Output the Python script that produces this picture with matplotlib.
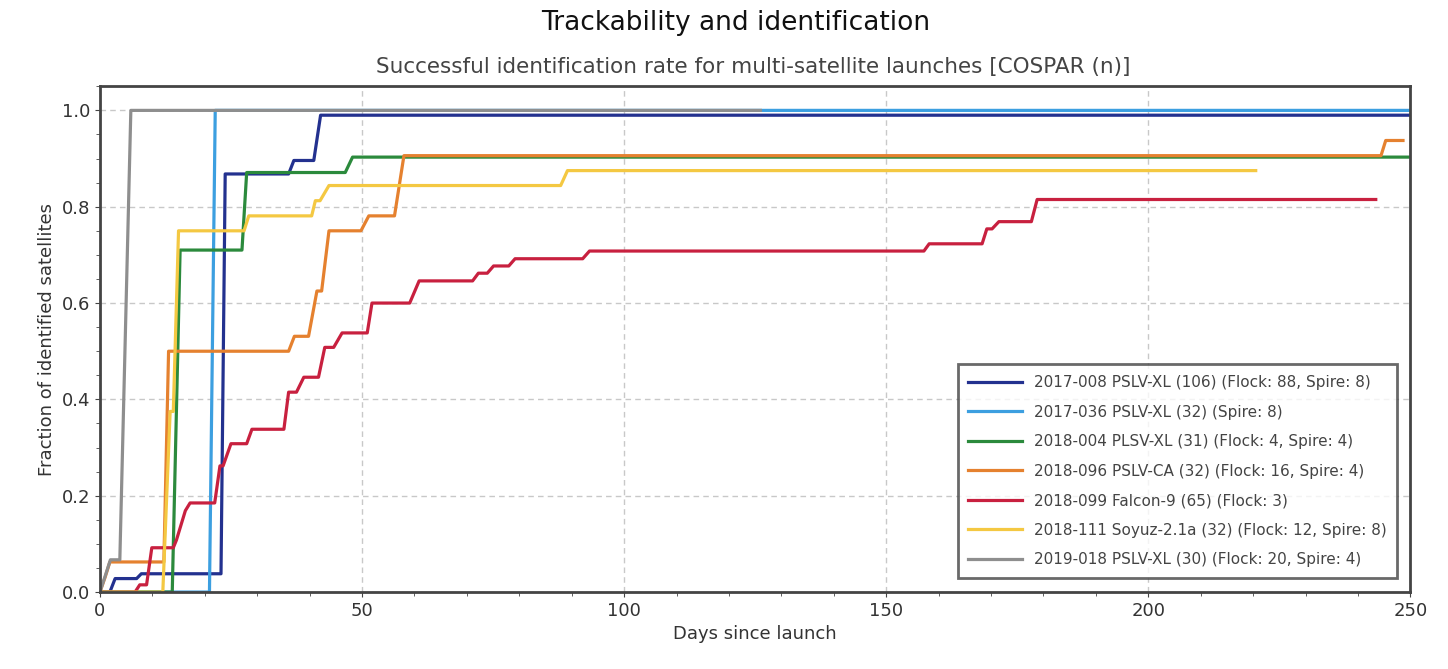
import numpy as np
import matplotlib.pyplot as plt
from matplotlib.ticker import MultipleLocator

# launch labels and colours
labels = ["2017-008 PSLV-XL (106) (Flock: 88, Spire: 8)",
          "2017-036 PSLV-XL (32) (Spire: 8)",
          "2018-004 PLSV-XL (31) (Flock: 4, Spire: 4)",
          "2018-096 PSLV-CA (32) (Flock: 16, Spire: 4)",
          "2018-099 Falcon-9 (65) (Flock: 3)",
          "2018-111 Soyuz-2.1a (32) (Flock: 12, Spire: 8)",
          "2019-018 PSLV-XL (30) (Flock: 20, Spire: 4)"]
colors = ["#23318f", "#3c9fe0", "#2b8a3c", "#e5812f", "#c8203f", "#f4c842", "#8e8e8e"]

# days since launch / fraction identified
days_008 = [0, 1.9, 2.9, 7.0, 7.9, 23.1, 23.9, 36.0, 37.0, 40.8, 42.1, 250]
frac_008 = [0, 0, 0.028, 0.028, 0.038, 0.038, 0.868, 0.868, 0.896, 0.896, 0.99, 0.99]

days_036 = [0, 20.9, 22.0, 250]
frac_036 = [0, 0, 1.0, 1.0]

days_004 = [0, 13.8, 15.3, 27.1, 28.0, 46.8, 48.2, 250]
frac_004 = [0, 0, 0.71, 0.71, 0.871, 0.871, 0.903, 0.903]

days_096 = [0, 1.0, 1.9, 12.2, 13.1, 36.0, 37.1, 39.8, 41.4, 42.3, 43.7, 49.8, 51.3,
            56.2, 58.0, 244.4, 245.3, 248.6]
frac_096 = [0, 0.031, 0.0625, 0.0625, 0.5, 0.5, 0.531, 0.531, 0.625, 0.625, 0.75, 0.75, 0.781,
            0.781, 0.906, 0.906, 0.9375, 0.9375]

days_099 = [0, 6.7, 7.6, 8.9, 9.9, 14.0, 14.6, 16.3, 17.2, 21.9, 22.9, 23.5, 25.0, 28.0, 29.0,
            35.1, 36.0, 37.5, 38.9, 41.7, 42.9, 44.6, 46.2, 51.0, 51.9, 59.1, 60.9, 71.1, 72.2,
            73.9, 75.1, 78.0, 79.2, 92.1, 93.4, 157.2, 158.2, 168.3, 169.2, 170.2, 171.5,
            177.7, 178.8, 243.4]
frac_099 = [0, 0, 0.015, 0.015, 0.092, 0.092, 0.108, 0.169, 0.185, 0.185, 0.262, 0.262, 0.308,
            0.308, 0.338, 0.338, 0.415, 0.415, 0.446, 0.446, 0.508, 0.508, 0.538, 0.538, 0.6,
            0.6, 0.646, 0.646, 0.662, 0.662, 0.677, 0.677, 0.692, 0.692, 0.708, 0.708, 0.723,
            0.723, 0.754, 0.754, 0.769, 0.769, 0.815, 0.815]

days_111 = [0, 12.0, 13.4, 14.0, 15.0, 27.5, 28.4, 40.4, 41.1, 42.0, 43.7, 87.9, 89.2, 220.5]
frac_111 = [0, 0, 0.375, 0.375, 0.75, 0.75, 0.781, 0.781, 0.8125, 0.8125, 0.844, 0.844, 0.875, 0.875]

days_018 = [0, 1.0, 2.0, 3.8, 5.9, 126]
frac_018 = [0, 0.033, 0.067, 0.067, 1.0, 1.0]

all_days = [days_008, days_036, days_004, days_096, days_099, days_111, days_018]
all_frac = [frac_008, frac_036, frac_004, frac_096, frac_099, frac_111, frac_018]

fig = plt.figure(figsize=(14.48, 6.69), dpi=100)
ax = fig.add_axes([0.069, 0.115, 0.905, 0.756])

for d, f, c, lab in zip(all_days, all_frac, colors, labels):
    ax.plot(d, f, color=c, lw=2.3, label=lab)

ax.set_xlim(0, 250)
ax.set_ylim(0, 1.05)
ax.xaxis.set_major_locator(MultipleLocator(50))
ax.xaxis.set_minor_locator(MultipleLocator(10))
ax.yaxis.set_major_locator(MultipleLocator(0.2))
ax.yaxis.set_minor_locator(MultipleLocator(0.05))
ax.grid(True, which="major", color="#c8c8c8", linestyle=(0, (4, 3)), lw=1)
for s in ax.spines.values():
    s.set_color("#444444")
    s.set_linewidth(2)
ax.tick_params(which="both", colors="#444444", labelcolor="#333333", labelsize=13)
ax.tick_params(which="minor", length=3)

ax.set_xlabel("Days since launch", fontsize=13, color="#333333")
ax.set_ylabel("Fraction of identified satellites", fontsize=13, color="#333333")

leg = ax.legend(loc="lower right", fontsize=11, frameon=True, fancybox=False,
                handlelength=3.5, labelspacing=0.95, borderpad=0.7,
                bbox_to_anchor=(0.996, 0.013))
leg.get_frame().set_edgecolor("#444444")
leg.get_frame().set_linewidth(2)
for t in leg.get_texts():
    t.set_color("#444444")

fig.text(0.508, 0.965, "Trackability and identification", ha="center", va="center",
         fontsize=19, color="#111111")
fig.text(0.52, 0.9, "Successful identification rate for multi-satellite launches [COSPAR (n)]",
         ha="center", va="center", fontsize=15.5, color="#444444")

fig.savefig("out.png", dpi=100)
